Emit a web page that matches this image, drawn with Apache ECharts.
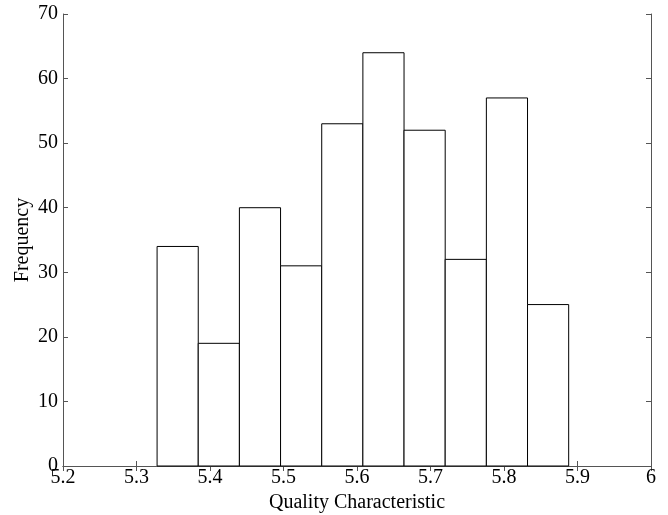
<!DOCTYPE html>
<html>
<head>
<meta charset="utf-8">
<script src="https://cdn.jsdelivr.net/npm/echarts@6/dist/echarts.min.js"></script>
<style>
  html, body { margin: 0; padding: 0; background: #fff; }
  #main { width: 668px; height: 515px; }
</style>
</head>
<body>
<div id="main"></div>
<script>
// 直方图 --- bin edges and counts
const binEdges = [5.328, 5.384, 5.440, 5.496, 5.552, 5.608, 5.664, 5.720, 5.776, 5.832, 5.888];
const counts = [34, 19, 40, 31, 53, 64, 52, 32, 57, 25];
const xTicks = [5.2, 5.3, 5.4, 5.5, 5.6, 5.7, 5.8, 5.9, 6];
const yTicks = [0, 10, 20, 30, 40, 50, 60, 70];

let bins = counts.map((c, k) => [binEdges[k], binEdges[k + 1], c]);

let myChart = echarts.init(document.getElementById("main"));
let font = "'Liberation Serif', 'Times New Roman', serif";
let axisLine = { show: true, lineStyle: { color: "#555", width: 1 } };
let tick = { show: true, inside: true, length: 5, lineStyle: { color: "#555" } };

let option = {
  backgroundColor: "#fff",
  animation: false,
  grid: { left: 63, right: 17, top: 14, bottom: 49, containLabel: false, outerBoundsMode: "none" },
  xAxis: [
    {
      type: "value",
      min: 5.2, max: 6, interval: 0.1,
      name: "Quality Characteristic",
      nameLocation: "middle",
      nameGap: 27,
      nameMoveOverlap: false,
      nameTextStyle: { fontFamily: font, fontSize: 20, color: "#000" },
      axisLine, axisTick: tick,
      axisLabel: {
        fontFamily: font, fontSize: 20, color: "#000", margin: 2,
        formatter: v => String(Math.round(v * 10) / 10)
      },
      splitLine: { show: false }
    },
    {
      type: "value", position: "top",
      min: 5.2, max: 6, interval: 0.1,
      axisLine, axisTick: tick, axisLabel: { show: false }, splitLine: { show: false }
    }
  ],
  yAxis: [
    {
      type: "value",
      min: 0, max: 70, interval: 10,
      name: "Frequency",
      nameLocation: "middle",
      nameGap: 30,
      nameMoveOverlap: false,
      nameTextStyle: { fontFamily: font, fontSize: 20, color: "#000" },
      axisLine, axisTick: tick,
      axisLabel: { fontFamily: font, fontSize: 20, color: "#000", margin: 5 },
      splitLine: { show: false }
    },
    {
      type: "value", position: "right",
      min: 0, max: 70, interval: 10,
      axisLine, axisTick: tick, axisLabel: { show: false }, splitLine: { show: false }
    }
  ],
  series: [
    {
      type: "custom",
      data: bins,
      encode: { x: [0, 1], y: 2 },
      renderItem: function (params, api) {
        let p0 = api.coord([api.value(0), 0]);
        let p1 = api.coord([api.value(1), api.value(2)]);
        return {
          type: "rect",
          shape: { x: p0[0], y: p1[1], width: p1[0] - p0[0], height: p0[1] - p1[1] },
          style: { fill: "#fff", stroke: "#000", lineWidth: 1 }
        };
      }
    }
  ]
};
myChart.setOption(option);
</script>
</body>
</html>
